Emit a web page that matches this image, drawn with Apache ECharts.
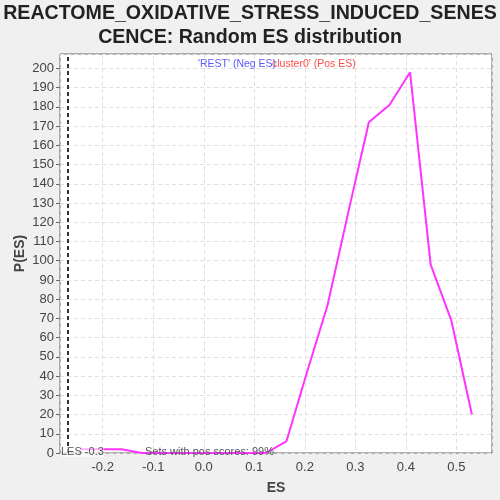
<!DOCTYPE html>
<html>
<head>
<meta charset="utf-8">
<script src="https://cdn.jsdelivr.net/npm/echarts@6/dist/echarts.min.js"></script>
<style>
  html, body { margin: 0; padding: 0; background: #f0f0f0; }
  #chart { width: 500px; height: 500px; }
</style>
</head>
<body>
<div id="chart"></div>
<script>
// ES bins and the random ES density
const esValues = [-0.2445, -0.2037, -0.1629, -0.1221, -0.0813, -0.0405, 0.0003, 0.0411, 0.0819, 0.1227,
  0.1635, 0.2043, 0.2451, 0.2859, 0.3267, 0.3675, 0.4083, 0.4491, 0.4899, 0.5307];
const density = [2, 2, 2, 0, 0, 0, 0, 0, 0, 0, 6, 42, 77, 125, 172, 181, 198, 98, 69, 20];
const lesValue = -0.2693;
const titleLines = ['REACTOME_OXIDATIVE_STRESS_INDUCED_SENES', 'CENCE: Random ES distribution'];

const FONT = 'Liberation Sans, Arial, sans-serif';
const chart = echarts.init(document.getElementById('chart'));

chart.setOption({
  backgroundColor: '#f0f0f0',
  animation: false,
  title: {
    text: titleLines.join('\n'),
    left: 'center', top: -3,
    textStyle: { fontFamily: FONT, fontSize: 19.6, fontWeight: 'bold', color: '#222', lineHeight: 24 }
  },
  grid: {
    left: 60, right: 8, top: 54, bottom: 45,
    show: true, backgroundColor: '#fff', borderColor: '#666', borderWidth: 1
  },
  xAxis: {
    type: 'value', min: -0.2846, max: 0.5705, splitNumber: 8,
    name: 'ES', nameLocation: 'middle', nameGap: 28,
    nameTextStyle: { fontFamily: FONT, fontSize: 14, fontWeight: 'bold', color: '#444' },
    axisLine: { show: false },
    axisTick: { show: false },
    axisLabel: { fontFamily: FONT, fontSize: 13, color: '#444', showMinLabel: false, showMaxLabel: false,
      formatter: v => v.toFixed(1) },
    splitLine: { lineStyle: { color: '#e0e0e0', type: [4, 3] } }
  },
  yAxis: {
    type: 'value', min: 0, max: 207.5, interval: 10,
    name: 'P(ES)', nameLocation: 'middle', nameGap: 33, nameMoveOverlap: false,
    nameTextStyle: { fontFamily: FONT, fontSize: 14, fontWeight: 'bold', color: '#444' },
    axisLine: { show: false, onZero: false },
    axisTick: { show: true, length: 4, lineStyle: { color: '#666' } },
    axisLabel: { fontFamily: FONT, fontSize: 13, color: '#444', showMaxLabel: false, margin: 6 },
    splitLine: { lineStyle: { color: '#e0e0e0', type: [4, 3] } }
  },
  series: [{
    type: 'line',
    data: esValues.map((x, i) => [x, density[i]]),
    symbol: 'none',
    lineStyle: { color: '#ff33ff', width: 2 },
    markLine: {
      silent: true, symbol: 'none',
      label: { show: false },
      lineStyle: { color: '#333', width: 2, type: [4, 3] },
      data: [{ xAxis: lesValue }]
    },
    z: 3
  }],
  graphic: [
    { type: 'text', left: 198, top: 59, z: 10,
      style: { text: "'REST' (Neg ES)", fill: '#5a5aff', font: '10.5px ' + FONT } },
    { type: 'text', left: 272, top: 59, z: 9,
      style: { text: "cluster0' (Pos ES)", fill: '#ff4a4a', font: '10.5px ' + FONT } },
    { type: 'text', left: 61, top: 446, z: 10,
      style: { text: 'LES -0.3', fill: '#555', font: '11px ' + FONT,
        backgroundColor: 'rgba(255,255,255,0.6)' } },
    { type: 'text', left: 145, top: 446, z: 10,
      style: { text: 'Sets with pos scores: 99%', fill: '#555', font: '11px ' + FONT } }
  ]
});
</script>
</body>
</html>
